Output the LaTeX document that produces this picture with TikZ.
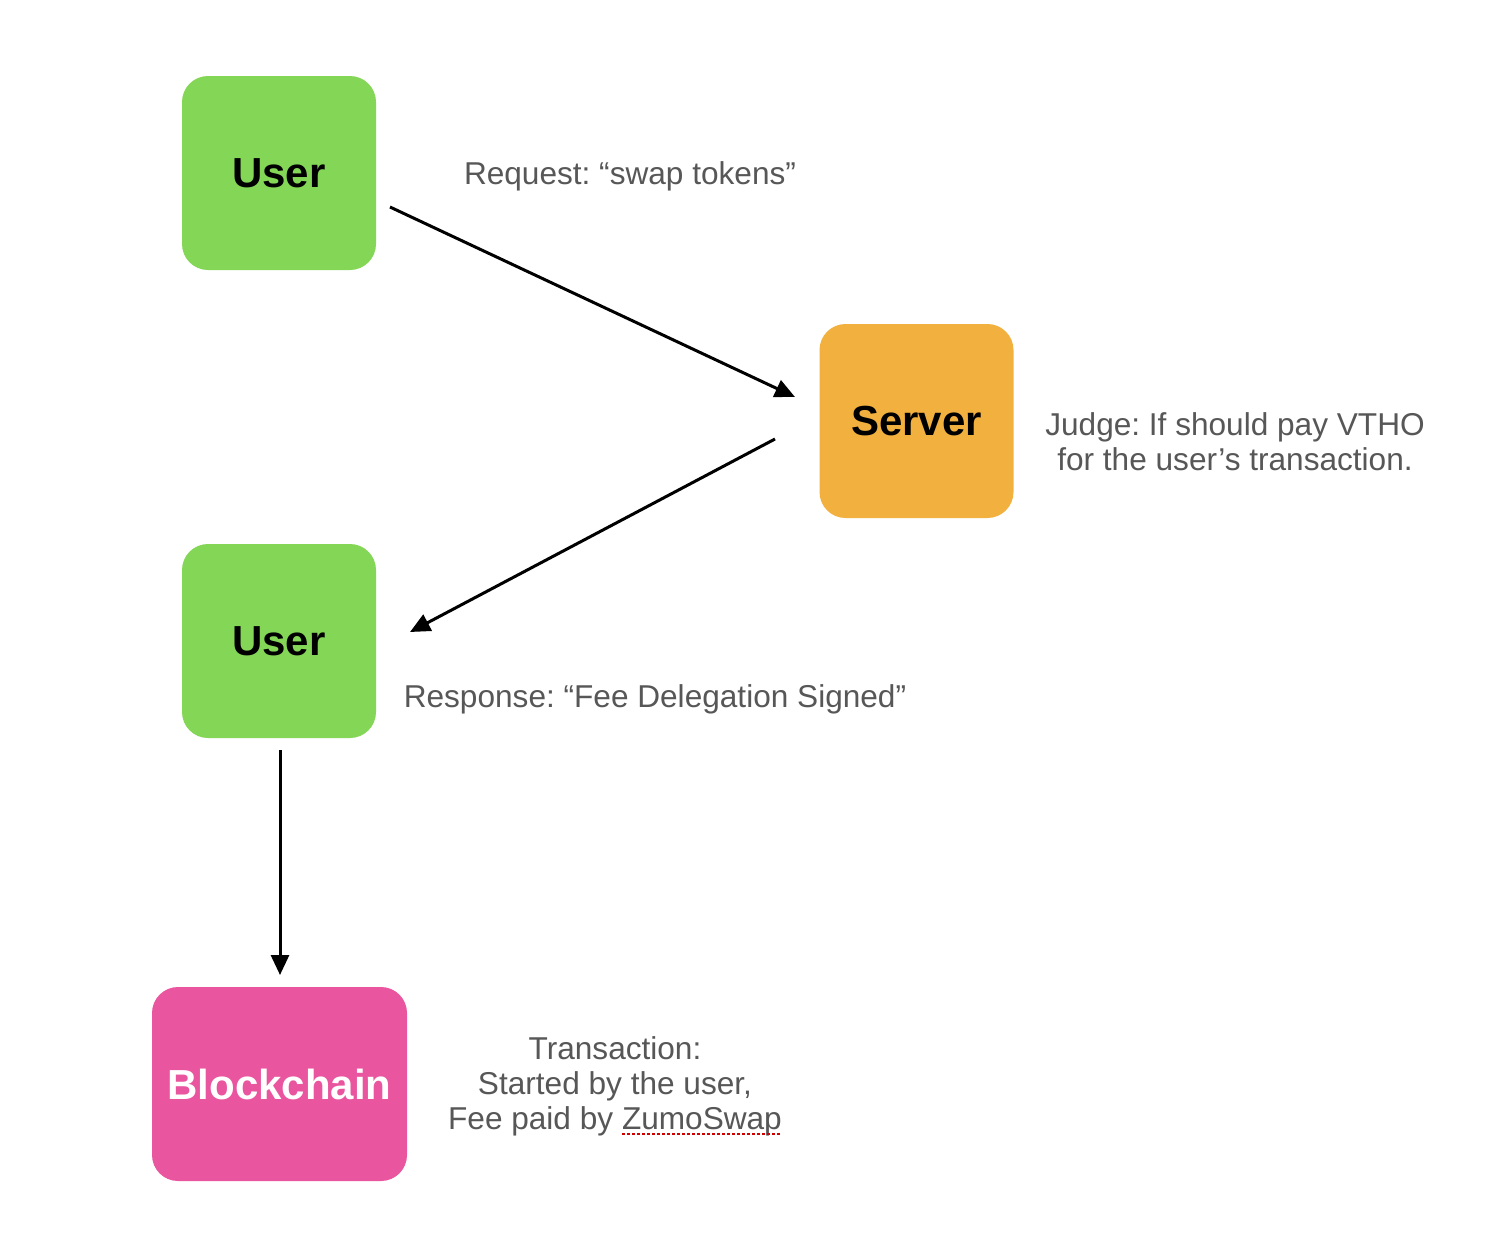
\documentclass[tikz,border=0pt]{standalone}
\usepackage{fontspec}
\setmainfont{Liberation Sans}
\usetikzlibrary{arrows.meta}
\definecolor{usergreen}{HTML}{84D656}
\definecolor{serverorange}{HTML}{F2B03F}
\definecolor{chainpink}{HTML}{EA559F}
\definecolor{labelgray}{HTML}{575757}
\frenchspacing
\begin{document}
\begin{tikzpicture}[x=1pt,y=-1pt,
  box/.style={rounded corners=26pt, minimum width=194pt, minimum height=194pt, inner sep=0pt,
    font=\fontsize{42}{48}\selectfont\bfseries},
  lbl/.style={text=labelgray, font=\fontsize{31.6}{35}\selectfont, align=center, inner sep=0pt},
  flow/.style={line width=3pt, -{Triangle[length=20pt,width=18pt]}}]
\fill[white] (0,0) rectangle (1494,1232);
\useasboundingbox (0,0) rectangle (1494,1232);
\node[box, fill=usergreen] (user1) at (279,173) {User};
\node[box, fill=serverorange] (server) at (916.5,421) {Server};
\node[box, fill=usergreen] (user2) at (279,641) {User};
\node[box, fill=chainpink, text=white, minimum width=255pt] (chain) at (279.5,1084) {Blockchain};

\node[lbl] (req) at (630,176) {Request: “swap tokens”};
\node[lbl] (judge) at (1235,442) {Judge: If should pay VTHO\\ for the user’s transaction.};
\node[lbl] (resp) at (655,699) {Response: “Fee Delegation Signed”};
\node[lbl] (tx) at (615,1086) {Transaction:\\Started by the user,\\Fee paid by ZumoSwap};

\coordinate (a1s) at (390,207);
\coordinate (a1e) at (795,397);
\coordinate (a2s) at (775,439);
\coordinate (a2e) at (410,632);
\coordinate (a3s) at (280,750);
\coordinate (a3e) at (280,975);
\draw[flow] (a1s) -- (a1e);
\draw[flow] (a2s) -- (a2e);
\draw[flow] (a3s) -- (a3e);

\coordinate (ul1) at (622,1134);
\coordinate (ul2) at (781,1134);
\draw[red!80!black, line width=2.5pt, dash pattern=on 3pt off 2pt] (ul1) -- (ul2);
\end{tikzpicture}
\end{document}
